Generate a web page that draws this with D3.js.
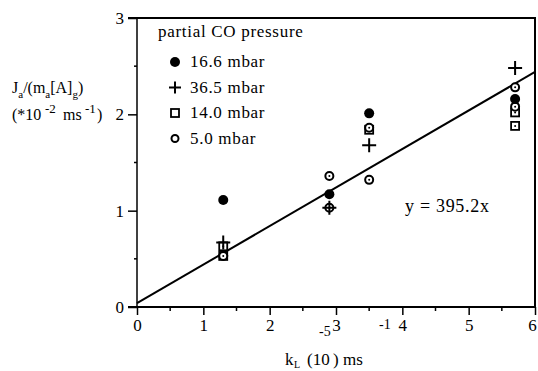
<!DOCTYPE html>
<html><head><meta charset="utf-8">
<script src="https://cdn.jsdelivr.net/npm/d3@7"></script>
<style>
body{margin:0;background:#fff;}
text{font-family:"Liberation Serif","Times New Roman",serif;fill:#000;}
</style></head>
<body><svg id="c" width="538" height="371"></svg>
<script>
// ---- data ----
const seriesNames = ["16.6 mbar", "36.5 mbar", "14.0 mbar", "5.0 mbar"];
const seriesShapes = ["filled", "plus", "square", "circle"];
const s166 = [[1.3, 1.11], [2.9, 1.17], [3.5, 2.01], [5.7, 2.16]];
const s365 = [[1.3, 0.67], [2.9, 1.03], [3.5, 1.68], [5.7, 2.48]];
const s140 = [[1.3, 0.63], [1.3, 0.53], [3.5, 1.84], [5.7, 2.02], [5.7, 1.88]];
const s050 = [[1.3, 0.53], [2.9, 1.36], [2.9, 1.03], [3.5, 1.86], [3.5, 1.32], [5.7, 2.28], [5.7, 2.08]];
const fitX = [0, 6];
const fitY = [0.04, 2.44];
const xTicks = [0, 1, 2, 3, 4, 5, 6];
const xMinor = [0.5, 1.5, 2.5, 3.5, 4.5, 5.5];
const yTicks = [0, 1, 2, 3];
const yMinor = [0.5, 1.5, 2.5];
const fitLabel = "y = 395.2x";

const svg = d3.select("#c");
const x = d3.scaleLinear().domain([0, 6]).range([137, 535]);
const y = d3.scaleLinear().domain([0, 3]).range([307, 18]);

// frame: top and right borders
svg.append("line").attr("x1", 128).attr("x2", x(6) + 1).attr("y1", y(3)).attr("y2", y(3))
  .attr("stroke", "#000").attr("stroke-width", 2);
svg.append("line").attr("x1", x(6)).attr("x2", x(6)).attr("y1", y(3)).attr("y2", y(0))
  .attr("stroke", "#000").attr("stroke-width", 2);

// x axis
const xAxis = d3.axisBottom(x).tickValues(xTicks).tickSize(8).tickPadding(4).tickFormat(d3.format("d"));
const gx = svg.append("g").attr("transform", `translate(0,${y(0)})`).call(xAxis);
gx.select(".domain").attr("d", `M128,0H${x(6)}`).attr("stroke-width", 2);
gx.selectAll(".tick line").attr("stroke-width", 1.5);
gx.selectAll(".tick text").attr("font-size", 17).attr("font-family", "Liberation Serif")
  .attr("dx", d => d === 6 ? -3 : 0);
gx.selectAll(".minor").data(xMinor).enter().append("line")
  .attr("x1", d => x(d)).attr("x2", d => x(d)).attr("y1", 0).attr("y2", 4)
  .attr("stroke", "#000").attr("stroke-width", 1.5);

// y axis
const yAxis = d3.axisLeft(y).tickValues(yTicks).tickSize(9).tickPadding(4).tickFormat(d3.format("d"));
const gy = svg.append("g").attr("transform", `translate(${x(0)},0)`).call(yAxis);
gy.select(".domain").attr("d", `M0,${y(3)}V${y(0)}`).attr("stroke-width", 1.5);
gy.selectAll(".tick line").attr("stroke-width", 1.5);
gy.selectAll(".tick text").attr("font-size", 17).attr("font-family", "Liberation Serif");
gy.selectAll(".minor").data(yMinor).enter().append("line")
  .attr("x1", -3).attr("x2", 0).attr("y1", d => y(d)).attr("y2", d => y(d))
  .attr("stroke", "#000").attr("stroke-width", 1.5);

// fit line
svg.append("line").attr("x1", x(fitX[0])).attr("y1", y(fitY[0])).attr("x2", x(fitX[1])).attr("y2", y(fitY[1]))
  .attr("stroke", "#000").attr("stroke-width", 2);

// marker drawing
function drawMarker(g, shape, cx, cy, legend) {
  if (shape === "filled") {
    g.append("circle").attr("cx", cx).attr("cy", cy).attr("r", 5).attr("fill", "#000");
  } else if (shape === "plus") {
    const h = legend ? 6 : 7;
    g.append("path").attr("d", `M${cx - h},${cy}H${cx + h}M${cx},${cy - h}V${cy + h}`)
      .attr("stroke", "#000").attr("stroke-width", 2).attr("fill", "none");
  } else if (shape === "square") {
    g.append("rect").attr("x", cx - 4).attr("y", cy - 4).attr("width", 8).attr("height", 8)
      .attr("fill", "#fff").attr("stroke", "#000").attr("stroke-width", 1.8);
    if (!legend) g.append("circle").attr("cx", cx).attr("cy", cy).attr("r", 1).attr("fill", "#000");
  } else {
    g.append("circle").attr("cx", cx).attr("cy", cy).attr("r", legend ? 3.5 : 4)
      .attr("fill", "#fff").attr("stroke", "#000").attr("stroke-width", 2);
    if (!legend) g.append("circle").attr("cx", cx).attr("cy", cy).attr("r", 1).attr("fill", "#000");
  }
}

const allSeries = [s140, s050, s166, s365];
const allShapes = ["square", "circle", "filled", "plus"];
const gm = svg.append("g");
allSeries.forEach((s, i) => {
  s.forEach(p => drawMarker(gm, allShapes[i], x(p[0]), y(p[1]), false));
});

// legend
svg.append("text").attr("x", 158).attr("y", 37).attr("font-size", 17).attr("letter-spacing", 0.7)
  .text("partial CO pressure");
seriesNames.forEach((n, i) => {
  const cy = 62 + i * 25.5;
  drawMarker(svg, seriesShapes[i], 175, cy, true);
  svg.append("text").attr("x", 190).attr("y", cy + 5).attr("font-size", 17).attr("letter-spacing", 0.7).text(n);
});

// fit label
svg.append("text").attr("x", 405).attr("y", 212).attr("font-size", 18).attr("letter-spacing", 0.7).text(fitLabel);

// y axis title
const t1 = svg.append("text").attr("x", 12).attr("y", 93).attr("font-size", 16);
t1.append("tspan").text("J");
t1.append("tspan").attr("font-size", 11).attr("dy", 5).text("a");
t1.append("tspan").attr("dy", -5).text("/(m");
t1.append("tspan").attr("font-size", 11).attr("dy", 5).text("a");
t1.append("tspan").attr("dy", -5).text("[A]");
t1.append("tspan").attr("font-size", 11).attr("dy", 5).text("g");
t1.append("tspan").attr("dy", -5).text(")");
const l2 = svg.append("g");
l2.append("text").attr("x", 12).attr("y", 120).attr("font-size", 16).text("(*10");
l2.append("text").attr("x", 45).attr("y", 113).attr("font-size", 13).text("-2");
l2.append("text").attr("x", 63).attr("y", 120).attr("font-size", 16).text("ms");
l2.append("text").attr("x", 85).attr("y", 113).attr("font-size", 13).text("-1");
l2.append("text").attr("x", 97).attr("y", 120).attr("font-size", 16).text(")");

// x axis title
svg.append("text").attr("x", 285).attr("y", 365).attr("font-size", 17).text("k");
svg.append("text").attr("x", 294).attr("y", 368).attr("font-size", 10).text("L");
svg.append("text").attr("x", 307).attr("y", 365).attr("font-size", 17).text("(10");
svg.append("text").attr("x", 319).attr("y", 336).attr("font-size", 14).text("-5");
svg.append("text").attr("x", 333).attr("y", 365).attr("font-size", 17).text(") ms");
svg.append("text").attr("x", 379).attr("y", 329).attr("font-size", 14).text("-1");
</script></body></html>
